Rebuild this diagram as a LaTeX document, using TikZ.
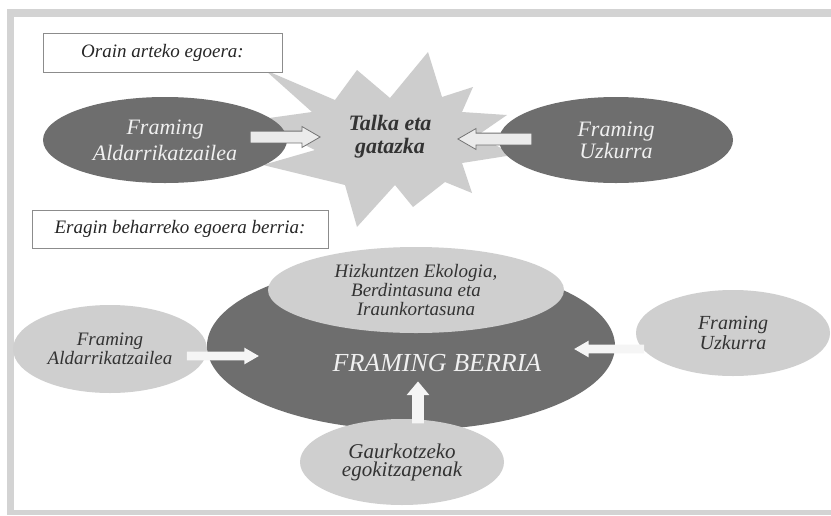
\documentclass[tikz,border=0pt]{standalone}
\usepackage{xcolor}
\usepackage{fontspec}
\setmainfont{Liberation Serif}
\definecolor{framegray}{HTML}{D3D3D3}
\definecolor{darkfill}{HTML}{6E6E6E}
\definecolor{lightfill}{HTML}{CFCFCF}
\definecolor{starfill}{HTML}{CDCDCD}
\definecolor{boxline}{HTML}{8C8C8C}
\usetikzlibrary{shapes.geometric,shapes.arrows}

\begin{document}
\begin{tikzpicture}[x=0.5pt,y=-0.5pt,
  darkell/.style={ellipse,fill=darkfill,inner sep=0pt,text=white!94!black,align=center},
  lightell/.style={ellipse,fill=lightfill,inner sep=0pt,text=black!80,align=center},
  titlebox/.style={draw=boxline,fill=white,inner sep=0pt,text=black!85,font=\fontsize{9.5}{11}\selectfont\itshape},
  toparrow/.style={single arrow,draw=black!55,fill=black!8,inner sep=2.75pt,single arrow head extend=2.25pt,single arrow tip angle=60,minimum height=35pt},
  botarrow/.style={single arrow,fill=black!4,inner sep=2pt,single arrow head extend=2pt,single arrow tip angle=60,minimum height=36pt}]

% Frame
\fill[framegray] (7,9) rectangle (831,515);
\fill[white] (14,17) rectangle (831,510);
\useasboundingbox (0,0) rectangle (831,515);

% Current situation (top)
\fill[starfill] (265,70) -- (335,100) -- (357,70) -- (390,98) -- (428,52) -- (442,97)
  -- (473,87) -- (462,112) -- (507,115) -- (478,135) -- (513,155) -- (462,163)
  -- (472,193) -- (445,182) -- (413,207) -- (395,185) -- (357,227) -- (345,185)
  -- (263,165) -- (315,150) -- (255,120) -- (312,112) -- cycle;
\node[titlebox,minimum width=119.5pt,minimum height=19.5pt] (orain) at (162.5,52.5) {Orain arteko egoera:};
\node[darkell,minimum width=122pt,minimum height=43pt,font=\fontsize{11}{13}\selectfont\itshape] (aldarriA) at (165,140) {Framing\\Aldarrikatzailea};
\node[darkell,minimum width=117pt,minimum height=43pt,font=\fontsize{11}{11}\selectfont\itshape] (uzkurA) at (616,140) {Framing\\Uzkurra};
\node[align=center,text=black!80,font=\fontsize{11}{11.5}\selectfont\bfseries\itshape] (talka) at (390,137) {Talka eta\\gatazka};
\node[toparrow] (arrA1) at (280,137) {};
\node[toparrow,shape border rotate=180,minimum height=37pt] (arrA2) at (500,139) {};

% New situation (bottom)
\node[titlebox,minimum width=148pt,minimum height=19pt] (eragin) at (180,229) {Eragin beharreko egoera berria:};
\node[darkell,minimum width=204pt,minimum height=84pt] (berria) at (411,346) {};
\node[lightell,minimum width=148pt,minimum height=43pt,font=\fontsize{9.5}{9.5}\selectfont\itshape] (ekologia) at (416,290) {Hizkuntzen Ekologia,\\Berdintasuna eta\\Iraunkortasuna};
\node[lightell,minimum width=97pt,minimum height=44pt,font=\fontsize{9.5}{9.5}\selectfont\itshape] (aldarriB) at (110,349) {Framing\\Aldarrikatzailea};
\node[lightell,minimum width=97pt,minimum height=43pt,font=\fontsize{10}{10}\selectfont\itshape] (uzkurB) at (733,333) {Framing\\Uzkurra};
\node[lightell,minimum width=102pt,minimum height=43pt,font=\fontsize{10.5}{9}\selectfont\itshape] (gaurko) at (402,462) {Gaurkotzeko\\egokitzapenak};
\node[text=white!94!black,font=\fontsize{13}{14}\selectfont\itshape] (berriaT) at (437,363) {FRAMING BERRIA};
\node[botarrow] (arrB1) at (219,356) {};
\node[botarrow,shape border rotate=180,minimum height=35pt] (arrB2) at (613,349) {};
\node[botarrow,shape border rotate=90,minimum height=21pt,inner sep=2.75pt,single arrow head extend=2.75pt,single arrow tip angle=80] (arrB3) at (418,406) {};
\end{tikzpicture}
\end{document}
